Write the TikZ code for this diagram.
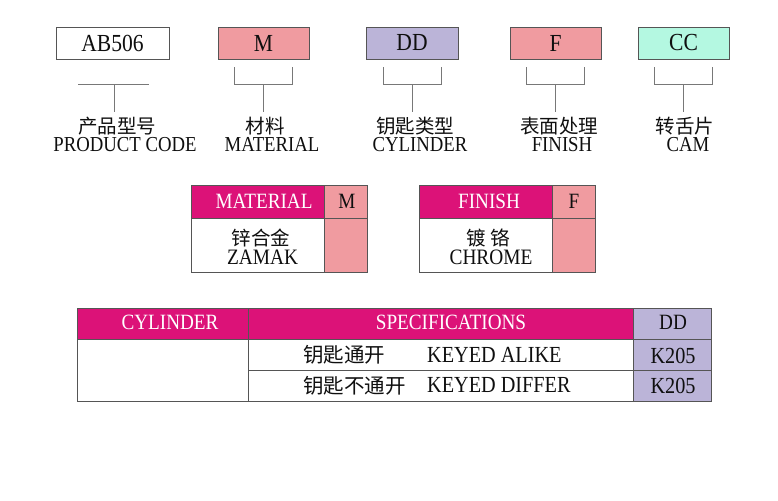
\documentclass[tikz,border=0pt]{standalone}
\usepackage{fontspec}
\setmainfont{Liberation Serif}[FakeStretch=0.88]
\newfontfamily\cjk{Noto Sans CJK SC}
\definecolor{mag}{RGB}{220,18,120}
\definecolor{pinkc}{RGB}{240,155,160}
\definecolor{lav}{RGB}{187,180,216}
\definecolor{mint}{RGB}{180,248,225}
\definecolor{edgec}{RGB}{85,85,85}
\definecolor{brkc}{RGB}{120,120,120}
\definecolor{ink}{RGB}{15,15,15}
\newcommand\codefnt{\fontsize{24.5}{24.5}\selectfont}
\newcommand\labfnt{\fontsize{21.3}{21.3}\selectfont}
\newcommand\hdfnt{\fontsize{21.8}{21.8}\selectfont}
\newcommand\bdfnt{\fontsize{23}{23}\selectfont}
\newcommand\midfnt{\fontsize{22}{22}\selectfont}
\tikzset{
 codebox/.style={draw=edgec, line width=0.9pt, minimum width=91pt, minimum height=32pt, inner sep=0pt, font=\codefnt, text=ink},
 cell/.style={draw=edgec, line width=0.8pt, inner sep=0pt},
 en/.style={inner sep=0pt, anchor=base, text=ink},
 hd/.style={inner sep=0pt, anchor=base, text=white, font=\hdfnt},
 zh/.style={inner sep=0pt, text=ink, font=\cjk\fontsize{19.5}{19.5}\selectfont},
 bracket/.style={draw=brkc, line width=1pt},
}
\newcommand\brkt[1]{%
 \draw[bracket] ([xshift=-29pt,yshift=-8pt]#1.south) |- ([yshift=-25pt]#1.south) -| ([xshift=29pt,yshift=-8pt]#1.south);
 \draw[bracket] ([yshift=-25pt]#1.south) -- ([yshift=-53pt]#1.south);}
\begin{document}
\begin{tikzpicture}[x=1pt,y=-1pt]
\fill[white] (0,0) rectangle (778,500);
\useasboundingbox (0,0) rectangle (778,500);
% top code boxes
\node[codebox, minimum width=113pt] (pc) at (112.5,43) {AB506};
\node[codebox, fill=pinkc] (mat) at (263.5,43) {M};
\node[codebox, fill=lav, minimum width=92pt] (cyl) at (412,43) {DD};
\node[codebox, fill=pinkc] (fin) at (555.5,43) {F};
\node[codebox, fill=mint] (cam) at (683.5,43) {CC};
% brackets
\draw[bracket] ([xshift=-34.5pt,yshift=-25pt]pc.south) -- ([xshift=36.5pt,yshift=-25pt]pc.south);
\draw[bracket] ([xshift=1.5pt,yshift=-25pt]pc.south) -- ([xshift=1.5pt,yshift=-53pt]pc.south);
\brkt{mat}
\brkt{cyl}
\brkt{fin}
\brkt{cam}
% labels
\node[zh] (pczh) at (117,126) {产品型号};
\node[en, font=\labfnt] (pcen) at (125,151) {PRODUCT CODE};
\node[zh] (matzh) at (265,126) {材料};
\node[en, font=\labfnt] (maten) at (272,151) {MATERIAL};
\node[zh] (cylzh) at (415,126) {钥匙类型};
\node[en, font=\labfnt] (cylen) at (420,151) {CYLINDER};
\node[zh] (finzh) at (559,126) {表面处理};
\node[en, font=\labfnt] (finen) at (562,151) {FINISH};
\node[zh] (camzh) at (685,126) {转舌片};
\node[en, font=\labfnt] (camen) at (688,151) {CAM};
% material table
\node[cell, fill=mag, minimum width=133pt, minimum height=33pt] (mh) at (257.5,201.5) {};
\node[cell, fill=pinkc, minimum width=43pt, minimum height=33pt] (mhc) at (345.5,201.5) {};
\node[cell, fill=white, minimum width=133pt, minimum height=54pt] (mb) at (257.5,245) {};
\node[cell, fill=pinkc, minimum width=43pt, minimum height=54pt] (mbc) at (345.5,245) {};
\node[hd] (mht) at (264,208) {MATERIAL};
\node[en, font=\hdfnt] (mct) at (347,208) {M};
\node[zh] (mzh) at (261,238) {锌合金};
\node[en, font=\midfnt] (men) at (262.5,264) {ZAMAK};
% finish table
\node[cell, fill=mag, minimum width=133pt, minimum height=33pt] (fh) at (485.5,201.5) {};
\node[cell, fill=pinkc, minimum width=43pt, minimum height=33pt] (fhc) at (573.5,201.5) {};
\node[cell, fill=white, minimum width=133pt, minimum height=54pt] (fb) at (485.5,245) {};
\node[cell, fill=pinkc, minimum width=43pt, minimum height=54pt] (fbc) at (573.5,245) {};
\node[hd] (fht) at (489,208) {FINISH};
\node[en, font=\hdfnt] (fct) at (574,208) {F};
\node[zh] (fzh) at (488,238) {镀 铬};
\node[en, font=\midfnt] (fen) at (491,264) {CHROME};
% cylinder table
\node[cell, fill=mag, minimum width=171pt, minimum height=31pt] (ch) at (162.5,323.5) {};
\node[cell, fill=mag, minimum width=385pt, minimum height=31pt] (sh) at (440.5,323.5) {};
\node[cell, fill=lav, minimum width=78pt, minimum height=31pt] (dh) at (672,323.5) {};
\node[cell, fill=white, minimum width=171pt, minimum height=62pt] (cb) at (162.5,370) {};
\node[cell, fill=white, minimum width=385pt, minimum height=31pt] (s1) at (440.5,354.5) {};
\node[cell, fill=white, minimum width=385pt, minimum height=31pt] (s2) at (440.5,385.5) {};
\node[cell, fill=lav, minimum width=78pt, minimum height=31pt] (d1) at (672,354.5) {};
\node[cell, fill=lav, minimum width=78pt, minimum height=31pt] (d2) at (672,385.5) {};
\node[hd] (cht) at (170,329) {CYLINDER};
\node[hd] (sht) at (451,329) {SPECIFICATIONS};
\node[en, font=\hdfnt] (dht) at (673,329) {DD};
\node[zh, anchor=west, font=\cjk\fontsize{20.5}{20.5}\selectfont] (k1zh) at (303,355) {钥匙通开};
\node[en, anchor=base west, font=\bdfnt] (k1en) at (427,362) {KEYED ALIKE};
\node[en, font=\bdfnt] (k1c) at (673,363) {K205};
\node[zh, anchor=west, font=\cjk\fontsize{20.5}{20.5}\selectfont] (k2zh) at (303,386) {钥匙不通开};
\node[en, anchor=base west, font=\bdfnt] (k2en) at (427,392) {KEYED DIFFER};
\node[en, font=\bdfnt] (k2c) at (673,393) {K205};
\end{tikzpicture}
\end{document}
